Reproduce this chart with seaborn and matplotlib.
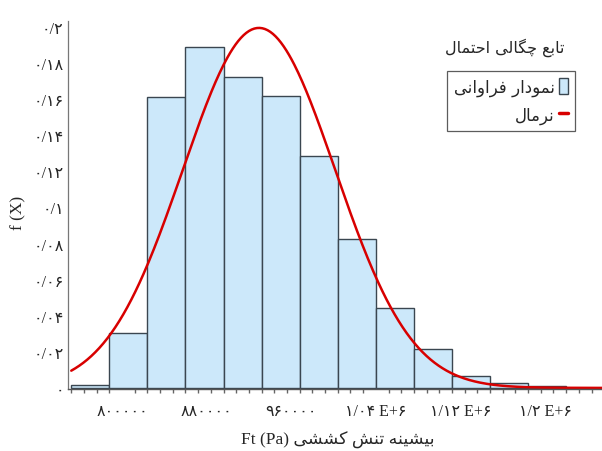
import numpy as np
import matplotlib
matplotlib.use("Agg")
import matplotlib.pyplot as plt
import seaborn as sns
import pandas as pd
from matplotlib.ticker import FixedLocator
from matplotlib.lines import Line2D
from matplotlib.patches import Patch

# ---------------- data ----------------
bin_edges = [752000, 788000, 824000, 860000, 896000, 932000, 968000,
             1004000, 1040000, 1076000, 1112000, 1148000, 1184000, 1220000]
rel_freq = [0.0015, 0.0305, 0.1614, 0.1889, 0.1721, 0.1620, 0.1287,
            0.0825, 0.0443, 0.0216, 0.0068, 0.0026, 0.0010]
normal_mean = 929500
normal_sd = 72000
x_ticks = [800000, 880000, 960000, 1040000, 1120000, 1200000]
x_tick_labels = ["۸۰۰۰۰۰", "۸۸۰۰۰۰", "۹۶۰۰۰۰", "۱/۰۴ E+۶", "۱/۱۲ E+۶", "۱/۲ E+۶"]
y_ticks = [0, 0.02, 0.04, 0.06, 0.08, 0.1, 0.12, 0.14, 0.16, 0.18, 0.2]
y_tick_labels = ["۰", "۰/۰۲", "۰/۰۴", "۰/۰۶", "۰/۰۸", "۰/۱", "۰/۱۲",
                 "۰/۱۴", "۰/۱۶", "۰/۱۸", "۰/۲"]
legend_title = "تابع چگالی احتمال"
hist_label = "نمودار فراوانی"
normal_label = "نرمال"
xlabel_fa = "بیشینه تنش کششی"
xlabel_en = "Ft (Pa)"
ylabel = "f (X)"

# ---------------- Persian shaping (no bidi engine in matplotlib) ----------------
FORMS = {  # isolated, final, initial, medial
    'ا': ('\uFE8D', '\uFE8E', None, None),
    'آ': ('\uFE81', '\uFE82', None, None),
    'ب': ('\uFE8F', '\uFE90', '\uFE91', '\uFE92'),
    'پ': ('\uFB56', '\uFB57', '\uFB58', '\uFB59'),
    'ت': ('\uFE95', '\uFE96', '\uFE97', '\uFE98'),
    'ث': ('\uFE99', '\uFE9A', '\uFE9B', '\uFE9C'),
    'ج': ('\uFE9D', '\uFE9E', '\uFE9F', '\uFEA0'),
    'چ': ('\uFB7A', '\uFB7B', '\uFB7C', '\uFB7D'),
    'ح': ('\uFEA1', '\uFEA2', '\uFEA3', '\uFEA4'),
    'خ': ('\uFEA5', '\uFEA6', '\uFEA7', '\uFEA8'),
    'د': ('\uFEA9', '\uFEAA', None, None),
    'ذ': ('\uFEAB', '\uFEAC', None, None),
    'ر': ('\uFEAD', '\uFEAE', None, None),
    'ز': ('\uFEAF', '\uFEB0', None, None),
    'ژ': ('\uFB8A', '\uFB8B', None, None),
    'س': ('\uFEB1', '\uFEB2', '\uFEB3', '\uFEB4'),
    'ش': ('\uFEB5', '\uFEB6', '\uFEB7', '\uFEB8'),
    'ص': ('\uFEB9', '\uFEBA', '\uFEBB', '\uFEBC'),
    'ض': ('\uFEBD', '\uFEBE', '\uFEBF', '\uFEC0'),
    'ط': ('\uFEC1', '\uFEC2', '\uFEC3', '\uFEC4'),
    'ظ': ('\uFEC5', '\uFEC6', '\uFEC7', '\uFEC8'),
    'ع': ('\uFEC9', '\uFECA', '\uFECB', '\uFECC'),
    'غ': ('\uFECD', '\uFECE', '\uFECF', '\uFED0'),
    'ف': ('\uFED1', '\uFED2', '\uFED3', '\uFED4'),
    'ق': ('\uFED5', '\uFED6', '\uFED7', '\uFED8'),
    'ک': ('\uFB8E', '\uFB8F', '\uFB90', '\uFB91'),
    'گ': ('\uFB92', '\uFB93', '\uFB94', '\uFB95'),
    'ل': ('\uFEDD', '\uFEDE', '\uFEDF', '\uFEE0'),
    'م': ('\uFEE1', '\uFEE2', '\uFEE3', '\uFEE4'),
    'ن': ('\uFEE5', '\uFEE6', '\uFEE7', '\uFEE8'),
    'ه': ('\uFEE9', '\uFEEA', '\uFEEB', '\uFEEC'),
    'و': ('\uFEED', '\uFEEE', None, None),
    'ی': ('\uFBFC', '\uFBFD', '\uFBFE', '\uFBFF'),
}


def shape(s):
    chars = list(s)
    out = []
    for i, c in enumerate(chars):
        if c not in FORMS:
            out.append(c)
            continue
        iso, fin, ini, med = FORMS[c]
        prev = chars[i - 1] if i > 0 else None
        nxt = chars[i + 1] if i + 1 < len(chars) else None
        jp = prev in FORMS and FORMS[prev][2] is not None
        jn = nxt in FORMS and ini is not None
        if jp and jn:
            out.append(med)
        elif jp:
            out.append(fin)
        elif jn:
            out.append(ini)
        else:
            out.append(iso)
    return ''.join(reversed(out))


# ---------------- plotting ----------------
sns.set_theme(style="white")
plt.rcParams['font.family'] = ['Liberation Serif', 'DejaVu Sans']
FA = ['DejaVu Sans']
MIX = ['Liberation Serif', 'DejaVu Sans']

fig = plt.figure(figsize=(6.02, 4.52), dpi=100)
ax = fig.add_axes([68 / 602, (452 - 390) / 452, (602 - 68) / 602, (390 - 22) / 452])

centers = [(a + b) / 2 for a, b in zip(bin_edges[:-1], bin_edges[1:])]
df = pd.DataFrame({"ft": centers, "w": rel_freq})
sns.histplot(data=df, x="ft", weights="w", bins=bin_edges, stat="count",
             color="#CCE8FA", alpha=1.0, edgecolor="#3a4650", linewidth=1.0,
             ax=ax)

bw = bin_edges[1] - bin_edges[0]
xs = np.linspace(bin_edges[0], 1256000, 400)
ys = bw * np.exp(-0.5 * ((xs - normal_mean) / normal_sd) ** 2) / (normal_sd * np.sqrt(2 * np.pi))
sns.lineplot(x=xs, y=ys, color="#D80000", linewidth=1.8, ax=ax)

ax.set_xlim(748900, 1253900)
ax.set_ylim(-0.0006, 0.2033)

ax.xaxis.set_major_locator(FixedLocator(x_ticks))
ax.set_xticklabels(x_tick_labels, fontsize=11.5, family=MIX)
ax.xaxis.set_minor_locator(FixedLocator(np.arange(752000, 1254000, 12000)))
ax.yaxis.set_major_locator(FixedLocator(y_ticks))
ax.set_yticklabels(y_tick_labels, fontsize=11.5, family=MIX)
ax.tick_params(axis='x', which='major', length=0, pad=10)
ax.tick_params(axis='x', which='minor', length=3, color="#666666", bottom=True)
ax.tick_params(axis='y', which='major', length=0, pad=3)

for s in ['top', 'right']:
    ax.spines[s].set_visible(False)
ax.spines['left'].set_color("#777777")
ax.spines['left'].set_linestyle((0, (2, 1)))
ax.spines['left'].set_linewidth(0.9)
ax.spines['bottom'].set_color("#555555")
ax.spines['bottom'].set_linewidth(1.0)

ax.set_xlabel("")
ax.set_ylabel("")
fig.text(338 / 602, 1 - 440 / 452, xlabel_en + " " + shape(xlabel_fa),
         ha='center', va='center', fontsize=12.5, family=MIX)
fig.text(18 / 602, 1 - 213 / 452, ylabel, rotation=90, ha='center', va='center',
         fontsize=12.5, family=MIX)

handles = [Patch(facecolor="#CCE8FA", edgecolor="#3a4650", linewidth=1.0),
           Line2D([0], [0], color="#D80000", linewidth=2.5)]
leg = ax.legend(handles, [shape(hist_label), shape(normal_label)],
                loc='upper left', bbox_to_anchor=((447 - 68) / 534, 1 - (72 - 22) / 368),
                borderaxespad=0.0,
                markerfirst=False, handlelength=0.55, handleheight=1.1,
                handletextpad=0.25, borderpad=0.4, labelspacing=0.6,
                frameon=True, fancybox=False, prop={'family': FA, 'size': 12})
leg.get_frame().set_edgecolor("#333333")
leg.get_frame().set_linewidth(0.9)
fig.text(505 / 602, 1 - 48 / 452, shape(legend_title), ha='center', va='center',
         fontsize=11.5, family=FA)

fig.savefig("out.png", dpi=100)
